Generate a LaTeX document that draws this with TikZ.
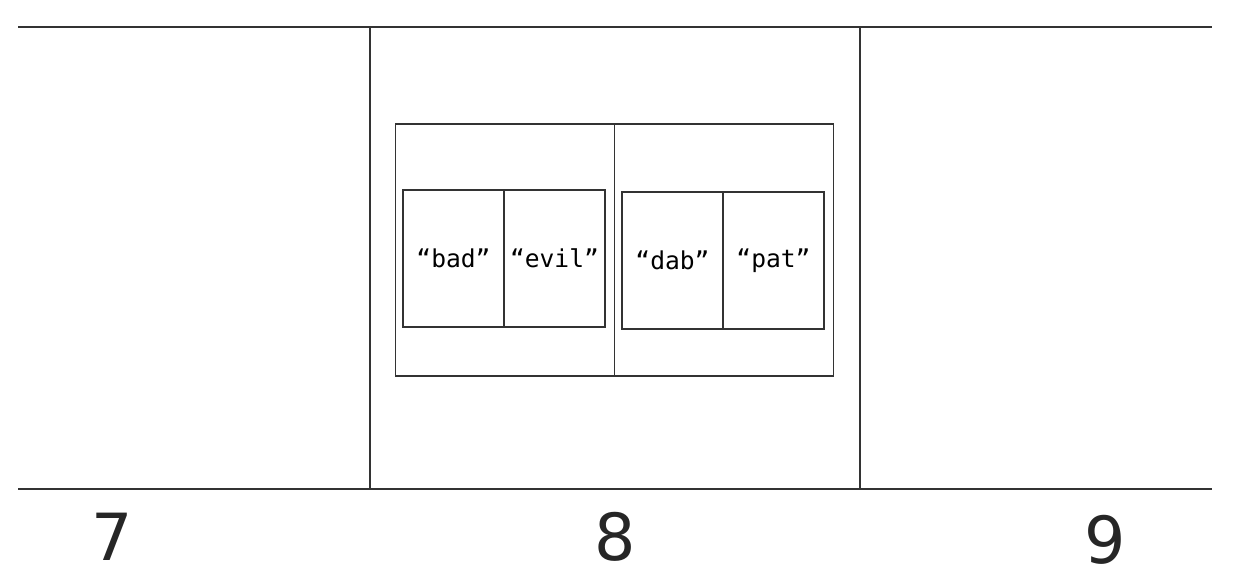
\documentclass[tikz,border=0pt]{standalone}
\usepackage{fontspec}
\setmainfont{DejaVu Sans}
\setmonofont{DejaVu Sans Mono}
\usetikzlibrary{positioning}
\tikzset{
  rule/.style={black!80, line width=0.6pt},
  half/.style={draw=black!80, line width=0.6pt, inner sep=0pt,
    minimum width=4.38cm, minimum height=5.04cm},
  cell/.style={draw=black!80, line width=0.6pt, inner sep=0pt,
    minimum width=2.02cm, minimum height=2.74cm,
    font=\ttfamily\fontsize{14}{16}\selectfont},
  digit/.style={font=\fontsize{37}{40}\selectfont, black!85}
}
\begin{document}
\begin{tikzpicture}[x=0.02cm, y=-0.02cm]
  \useasboundingbox (0,0) rectangle (1244,587);
  % the three slots: rules across, walls between
  \coordinate (tl) at (18,27);   \coordinate (tr) at (1212,27);
  \coordinate (bl) at (18,489);  \coordinate (br) at (1212,489);
  \coordinate (wa) at (370,27);  \coordinate (wb) at (370,489);
  \coordinate (wc) at (860,27);  \coordinate (wd) at (860,489);
  \draw[rule] (tl) -- (tr);
  \draw[rule] (bl) -- (br);
  \draw[rule] (wa) -- (wb);
  \draw[rule] (wc) -- (wd);
  % the pair stored in slot 8
  \node[half] (left)  at (505,250) {};
  \node[half, right=-0.6pt of left] (right) {};
  \node[cell] (bad)  at (453.5,258.5) {“bad”};
  \node[cell, right=-0.6pt of bad] (evil) {“evil”};
  \node[cell] (dab)  at (672.5,260.5) {“dab”};
  \node[cell, right=-0.6pt of dab] (pat) {“pat”};
  % slot numbers
  \node[digit] (n7) at (112,537) {7};
  \node[digit] (n8) at (615,537) {8};
  \node[digit] (n9) at (1105,540) {9};
\end{tikzpicture}
\end{document}
